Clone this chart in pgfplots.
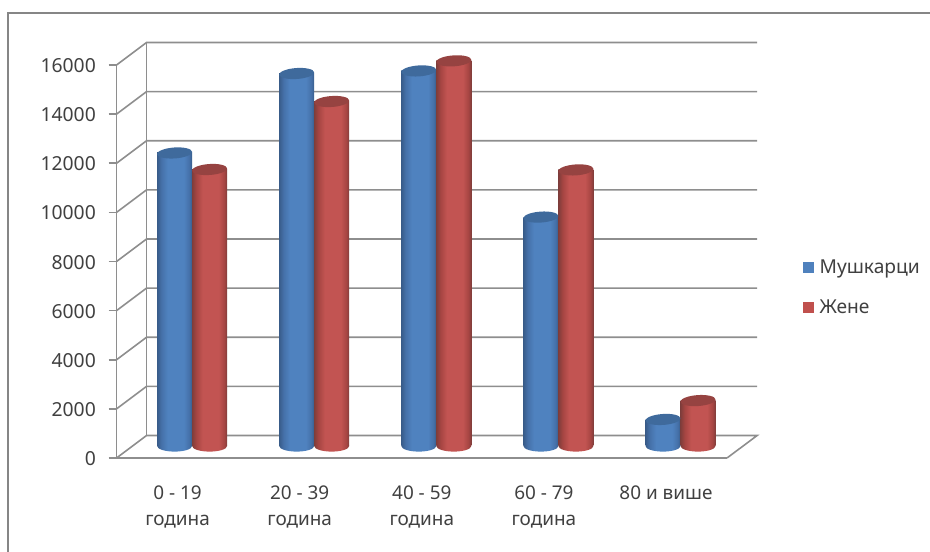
\documentclass[border=0pt]{standalone}
\usepackage{pgfplots}
\pgfplotsset{compat=1.18}
\usepackage{fontspec}
\setmainfont{Noto Sans}
\definecolor{gridc}{HTML}{8E8E8E}
\definecolor{framec}{HTML}{868686}
\definecolor{txt}{HTML}{404040}
\definecolor{blueM}{HTML}{4F81BD}
\definecolor{redM}{HTML}{C0504D}
\definecolor{blueT}{HTML}{3F6A9C}
\definecolor{redT}{HTML}{964341}
\pgfdeclarehorizontalshading{cylblue}{100bp}{rgb(0bp)=(0.22,0.36,0.54);rgb(25bp)=(0.22,0.36,0.54);rgb(31bp)=(0.27,0.44,0.66);rgb(40bp)=(0.31,0.51,0.75);rgb(63bp)=(0.31,0.51,0.75);rgb(71bp)=(0.27,0.44,0.66);rgb(75bp)=(0.22,0.36,0.54);rgb(100bp)=(0.22,0.36,0.54)}
\pgfdeclarehorizontalshading{cylred}{100bp}{rgb(0bp)=(0.50,0.24,0.23);rgb(25bp)=(0.50,0.24,0.23);rgb(31bp)=(0.65,0.27,0.26);rgb(40bp)=(0.76,0.33,0.32);rgb(63bp)=(0.76,0.33,0.32);rgb(71bp)=(0.65,0.27,0.26);rgb(75bp)=(0.50,0.24,0.23);rgb(100bp)=(0.50,0.24,0.23)}
\pgfdeclareplotmark{baseblue}{\pgfpathellipse{\pgfpointorigin}{\pgfqpoint{13.1pt}{0pt}}{\pgfqpoint{0pt}{4.2pt}}\pgfshadepath{cylblue}{0}\pgfusepath{discard}}
\pgfdeclareplotmark{basered}{\pgfpathellipse{\pgfpointorigin}{\pgfqpoint{13.1pt}{0pt}}{\pgfqpoint{0pt}{4.2pt}}\pgfshadepath{cylred}{0}\pgfusepath{discard}}
\pgfdeclareplotmark{topcap}{\pgfpathellipse{\pgfpointorigin}{\pgfqpoint{13.1pt}{0.9pt}}{\pgfqpoint{-0.3pt}{4.1pt}}\pgfusepathqfill}
\pgfplotstableread{
x men women zero
0 11930 11257 0
1 15165 14025 0
2 15270 15680 0
3 9320 11240 0
4 1080 1850 0
}\data
\pgfplotsset{
  menplot/.style={forget plot,xshift=-2.25pt,yshift=9pt},
  womenplot/.style={forget plot,xshift=24pt,yshift=9pt},
  cyl/.style={ybar,bar width=26.25pt,bar shift=0pt,draw=none,shading=#1},
}
\begin{document}
\begin{tikzpicture}
\path[use as bounding box] (0,0) rectangle (697.5pt,414pt);
\draw[framec,line width=1.1pt] (6pt,0) -- (6pt,404.25pt) -- (697.5pt,404.25pt);
\begin{axis}[
  at={(87.4pt,70.5pt)},anchor=south west,
  scale only axis,width=457.9pt,height=294.75pt,
  xmin=-0.5,xmax=4.5,ymin=0,ymax=16000,clip=false,
  axis lines=left,axis line style={-,gridc,line width=1.2pt},
  tick align=outside,
  major tick length=6pt,
  tick style={gridc,line width=1.2pt},
  xtick={0,1,2,3,4},
  xticklabels={{0 - 19\\година},{20 - 39\\година},{40 - 59\\година},{60 - 79\\година},{80 и више}},
  x tick style={draw=none},
  extra x ticks={-0.5,0.5,1.5,2.5,3.5,4.5},
  extra x tick labels={},
  extra x tick style={tick style={gridc,line width=1.2pt}},
  x tick label style={align=center,font=\fontsize{14.2pt}{19.5pt}\selectfont,text=txt,anchor=north,yshift=-11.2pt},
  ytick={0,2000,...,16000},
  scaled ticks=false,
  y tick label style={font=\fontsize{14.5pt}{17pt}\selectfont,text=txt,xshift=-6pt,yshift=-0.5pt},
  /pgf/number format/.cd,1000 sep={},fixed,precision=0,assume math mode=true,/pgfplots/.cd,
  legend style={at={(1.1245,0.509)},anchor=north west,draw=none,fill=none,
    font=\fontsize{14.4pt}{17pt}\selectfont,text=txt,row sep=16.2pt,inner sep=0pt,
    nodes={inner sep=1pt},/tikz/column 2/.style={column sep=0pt}},
  legend cell align=left,
  legend image code/.code={\fill[#1,draw=none] (0pt,-4pt) rectangle (8pt,4pt);\path (11pt,0);},
]
% floor and walls
\addplot[gridc,line width=1.2pt,forget plot] coordinates {(-0.5,0)(-0.254,916)(4.746,916)(4.5,0)};
\addplot[gridc,line width=1.2pt,forget plot] coordinates {(-0.254,916)(-0.254,16916)};
\foreach \v/\w in {2000/2916,4000/4916,6000/6916,8000/8916,10000/10916,12000/12916,14000/14916,16000/16916}{
  \edef\temp{\noexpand\addplot[gridc,line width=1.2pt,forget plot] coordinates {(-0.5,\v)(-0.254,\w)(4.746,\w)};}
  \temp
}
% men
\addplot[only marks,mark=baseblue,menplot] table[x=x,y=zero]{\data};
\addplot[cyl=cylblue,menplot] coordinates {(0,11930)};
\addplot[cyl=cylblue,menplot] coordinates {(1,15165)};
\addplot[cyl=cylblue,menplot] coordinates {(2,15270)};
\addplot[cyl=cylblue,menplot] coordinates {(3,9320)};
\addplot[cyl=cylblue,menplot] coordinates {(4,1080)};
\addplot[only marks,mark=topcap,color=blueT,menplot] table[x=x,y=men]{\data};
% women
\addplot[only marks,mark=basered,womenplot] table[x=x,y=zero]{\data};
\addplot[cyl=cylred,womenplot] coordinates {(0,11257)};
\addplot[cyl=cylred,womenplot] coordinates {(1,14025)};
\addplot[cyl=cylred,womenplot] coordinates {(2,15680)};
\addplot[cyl=cylred,womenplot] coordinates {(3,11240)};
\addplot[cyl=cylred,womenplot] coordinates {(4,1850)};
\addplot[only marks,mark=topcap,color=redT,womenplot] table[x=x,y=women]{\data};
\addlegendimage{fill=blueM}
\addlegendentry{Мушкарци}
\addlegendimage{fill=redM}
\addlegendentry{Жене}
\end{axis}
\end{tikzpicture}
\end{document}
